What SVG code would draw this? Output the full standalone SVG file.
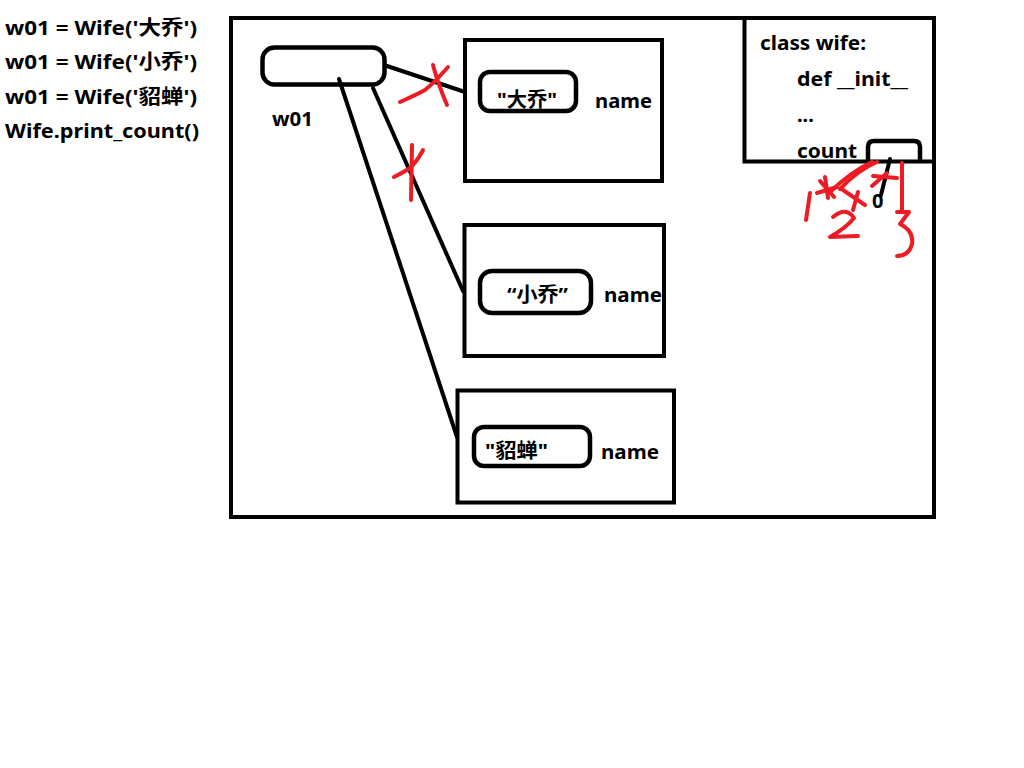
<svg xmlns="http://www.w3.org/2000/svg" width="1024" height="768" viewBox="0 0 1024 768">
<style>
.t{font-family:"Noto Sans","Noto Sans CJK SC",sans-serif;font-weight:bold;font-size:20px;fill:#000}
.box{fill:none;stroke:#000;stroke-width:4}
.rb{fill:none;stroke:#000;stroke-width:4.5}
.ln{fill:none;stroke:#000;stroke-width:4;stroke-linecap:round}
.red{fill:none;stroke:#ed1c24;stroke-width:4;stroke-linecap:round;stroke-linejoin:round}
</style>
<rect width="1024" height="768" fill="#fff"/>
<g id="code">
<text class="t" x="5" y="35" textLength="192" lengthAdjust="spacingAndGlyphs">w01 = Wife('大乔')</text>
<text class="t" x="5" y="69" textLength="192" lengthAdjust="spacingAndGlyphs">w01 = Wife('小乔')</text>
<text class="t" x="5" y="104" textLength="192" lengthAdjust="spacingAndGlyphs">w01 = Wife('貂蝉')</text>
<text class="t" x="5" y="138" textLength="194" lengthAdjust="spacingAndGlyphs">Wife.print_count()</text>
</g>
<g id="frame"><rect class="box" x="231" y="18" width="703" height="499"/></g>
<g id="class-wife">
<path class="box" d="M744.5,18 V161.5 H934"/>
<text class="t" x="760" y="50" textLength="106" lengthAdjust="spacingAndGlyphs">class wife:</text>
<text class="t" x="797" y="86" textLength="111" lengthAdjust="spacingAndGlyphs">def __init__</text>
<text class="t" x="797" y="122">...</text>
<text class="t" x="797" y="158" textLength="60" lengthAdjust="spacingAndGlyphs">count</text>
<path class="rb" d="M868,162 V147 Q868,141 874,141 H914 Q920,141 920,147 V162"/>
<path class="ln" d="M890,159 L881,195"/>
<text class="t" x="872" y="208">0</text>
</g>
<g id="w01">
<rect class="rb" x="262.5" y="47.5" width="122" height="37" rx="12"/>
<text class="t" x="272" y="126" textLength="41" lengthAdjust="spacingAndGlyphs">w01</text>
</g>
<g id="obj1">
<rect class="box" x="465" y="40" width="197" height="141"/>
<rect class="rb" x="480" y="72" width="96" height="39" rx="10"/>
<text class="t" x="497" y="107" textLength="60" lengthAdjust="spacingAndGlyphs">"大乔"</text>
<text class="t" x="595" y="108" textLength="57" lengthAdjust="spacingAndGlyphs">name</text>
</g>
<g id="obj2">
<rect class="box" x="464.5" y="225" width="199.5" height="131"/>
<rect class="rb" x="480" y="271" width="111" height="42" rx="12"/>
<text class="t" x="507" y="302" textLength="61" lengthAdjust="spacingAndGlyphs">“小乔”</text>
<text class="t" x="604" y="302" textLength="58" lengthAdjust="spacingAndGlyphs">name</text>
</g>
<g id="obj3">
<rect class="box" x="457.5" y="390.5" width="216.5" height="112"/>
<rect class="rb" x="474" y="427" width="116" height="39" rx="10"/>
<text class="t" x="485" y="458" textLength="63" lengthAdjust="spacingAndGlyphs">"貂蝉"</text>
<text class="t" x="601" y="459" textLength="58" lengthAdjust="spacingAndGlyphs">name</text>
</g>
<g id="connectors">
<path class="ln" d="M387,66 L465,92"/>
<path class="ln" d="M373,88 L463,291"/>
<path class="ln" d="M339,79 L457,437"/>
</g>
<g id="red-marks">
<path class="red" d="M400,102 Q418,94 425,90 Q434,83 448,67"/>
<path class="red" d="M433,65 Q438,84 447,105"/>
<path class="red" d="M412,145 L411,200"/>
<path class="red" d="M394,177 Q404,172 410,168 Q418,160 423,150"/>
<path class="red" d="M810,193 L806,220"/>
<path class="red" d="M825,177 L828,198 M817,193 L837,187 M820,181 L834,197"/>
<path class="red" d="M828,194 Q850,172 872,162"/>
<path class="red" d="M840,189 Q858,170 877,162"/>
<path class="red" d="M843,190 L865,205 M858,192 L853,210"/>
<path class="red" d="M833,217 Q846,206 854,218 Q846,228 830,237 L858,236"/>
<path class="red" d="M873,176 L897,178 M872,186 L887,173"/>
<path class="red" d="M902,163 L902,212"/>
<path class="red" d="M897,212 L909,212 L900,224 Q914,231 912,244 Q909,256 897,256"/>
</g>
</svg>
